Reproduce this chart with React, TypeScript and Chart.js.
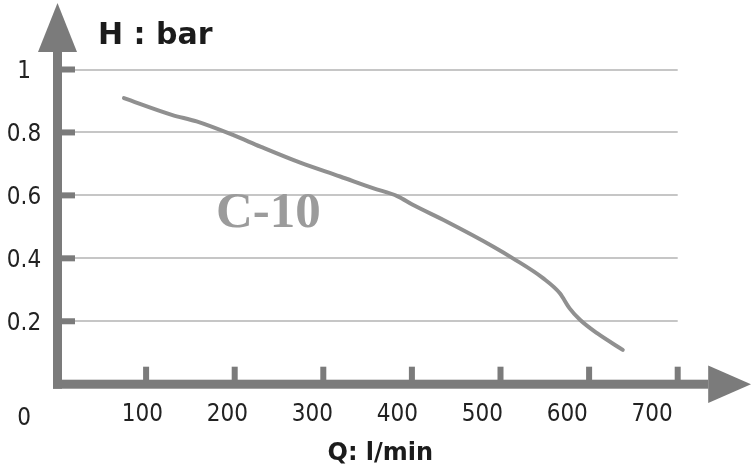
import React, { useEffect, useRef } from "react";
import { Chart, registerables } from "chart.js";

Chart.register(...registerables);

// ---- data ----
const flowQ = [75, 129, 157, 198, 229, 274, 319, 356, 384, 401, 439, 492, 514, 548, 567, 578, 590, 609, 638];
const headH = [0.909, 0.856, 0.835, 0.792, 0.755, 0.704, 0.66, 0.623, 0.597, 0.57, 0.517, 0.437, 0.4, 0.337, 0.289, 0.241, 0.204, 0.162, 0.109];

const xTickValues = [100, 200, 300, 400, 500, 600, 700];
const xTickLabels = ["100", "200", "300", "400", "500", "600", "700"];
const yTickValues = [0.2, 0.4, 0.6, 0.8, 1];
const yTickLabels = ["0.2", "0.4", "0.6", "0.8", "1"];
const originLabel = "0";
const yTitle = "H : bar";
const xTitle = "Q: l/min";
const curveName = "C-10";
const curveLabelQ = 238;
const curveLabelH = 0.5;

const X_MAX = 700;
const Y_MAX = 1;
const LABEL_AXIS_MAX = 730;

// ---- styles ----
const AXIS = "#7b7b7b";
const GRID = "#c6c6c6";
const CURVE = "#909090";
const TEXT = "#222222";
const LABEL_FONT = '24px "DejaVu Sans Condensed", "DejaVu Sans", sans-serif';
const TITLE_FONT_Y = 'bold 30px "DejaVu Sans", sans-serif';
const TITLE_FONT_X = 'bold 24px "DejaVu Sans", sans-serif';
const NAME_FONT = 'bold 51px "Liberation Serif", serif';

const axesPlugin = {
  id: "pumpAxes",
  afterDatasetsDraw(chart: any) {
    const ctx = chart.ctx as CanvasRenderingContext2D;
    const xs = chart.scales.x;
    const ys = chart.scales.y;
    const xl = chart.scales.xl;
    const area = chart.chartArea;
    const x0 = xs.getPixelForValue(0);
    const y0 = ys.getPixelForValue(0);
    const W = chart.width;

    ctx.save();
    ctx.fillStyle = AXIS;

    // tick stubs on y axis
    yTickValues.forEach((v) => {
      const y = ys.getPixelForValue(v);
      ctx.fillRect(x0 + 4.5, y - 3, 13, 6);
    });
    // tick stubs on x axis
    xTickValues.forEach((v) => {
      const x = xs.getPixelForValue(v);
      ctx.fillRect(x - 3, y0 - 17.5, 6, 13.5);
    });

    const arrowBaseY = area.top - 17.5;
    const arrowBaseX = area.right + 30.5;
    // y axis bar
    ctx.fillRect(x0 - 4.5, arrowBaseY, 9, y0 + 4.5 - arrowBaseY);
    // x axis bar
    ctx.fillRect(x0 - 4.5, y0 - 4.5, arrowBaseX - (x0 - 4.5), 9);

    // y arrow head
    ctx.beginPath();
    ctx.moveTo(x0, area.top - 66.5);
    ctx.lineTo(x0 + 19.5, arrowBaseY);
    ctx.lineTo(x0 - 19.5, arrowBaseY);
    ctx.closePath();
    ctx.fill();
    // x arrow head
    ctx.beginPath();
    ctx.moveTo(W, y0);
    ctx.lineTo(arrowBaseX, y0 - 18.7);
    ctx.lineTo(arrowBaseX, y0 + 18.7);
    ctx.closePath();
    ctx.fill();

    // y tick labels
    ctx.fillStyle = TEXT;
    ctx.font = LABEL_FONT;
    ctx.textAlign = "center";
    ctx.textBaseline = "alphabetic";
    const yLabelX = x0 - 33.5;
    yTickValues.forEach((v, i) => {
      const y = ys.getPixelForValue(v);
      ctx.fillText(yTickLabels[i], yLabelX, y + 8.7);
    });
    // x tick labels
    xTickValues.forEach((v, i) => {
      const x = xl.getPixelForValue(v);
      ctx.fillText(xTickLabels[i], x, y0 + 36.5);
    });
    // origin label
    ctx.fillText(originLabel, yLabelX, y0 + 41);

    // titles
    ctx.font = TITLE_FONT_Y;
    ctx.textAlign = "left";
    ctx.fillStyle = "#1b1b1b";
    ctx.fillText(yTitle, x0 + 40.5, area.top - 25.5);
    ctx.font = TITLE_FONT_X;
    ctx.textAlign = "center";
    ctx.fillText(xTitle, xl.getPixelForValue(380), y0 + 75.3);

    // curve name
    ctx.font = NAME_FONT;
    ctx.fillStyle = "#9b9b9b";
    ctx.fillText(curveName, xs.getPixelForValue(curveLabelQ), ys.getPixelForValue(curveLabelH));

    ctx.restore();
  },
};

export default function App() {
  const ref = useRef<HTMLCanvasElement | null>(null);

  useEffect(() => {
    document.body.style.margin = "0";
    const canvas = ref.current;
    if (!canvas) return;
    const points = flowQ.map((q, i) => ({ x: q, y: headH[i] }));
    const zeroW = (s: any) => {
      s.width = 0;
    };
    const zeroH = (s: any) => {
      s.height = 0;
    };
    const chart = new Chart(canvas, {
      type: "line",
      data: {
        datasets: [
          {
            label: curveName,
            data: points,
            borderColor: CURVE,
            borderWidth: 4,
            pointRadius: 0,
            cubicInterpolationMode: "monotone",
            borderCapStyle: "round",
            borderJoinStyle: "round",
            fill: false,
            xAxisID: "x",
            yAxisID: "y",
          },
        ],
      },
      options: {
        animation: false,
        responsive: false,
        maintainAspectRatio: false,
        layout: { padding: { left: 57.5, right: 73.3, top: 69.5, bottom: 88.8 } },
        plugins: { legend: { display: false }, tooltip: { enabled: false }, title: { display: false } },
        events: [],
        scales: {
          x: {
            type: "linear",
            min: 0,
            max: X_MAX,
            grid: { display: false },
            border: { display: false },
            ticks: { display: false, stepSize: 100 },
            afterFit: zeroH,
          },
          xl: {
            type: "linear",
            position: "bottom",
            min: 0,
            max: LABEL_AXIS_MAX,
            grid: { display: false },
            border: { display: false },
            ticks: { display: false, stepSize: 100 },
            afterFit: zeroH,
          },
          y: {
            type: "linear",
            min: 0,
            max: Y_MAX,
            grid: { color: GRID, lineWidth: 2, drawTicks: false },
            border: { display: false },
            ticks: { display: false, stepSize: 0.2 },
            afterFit: zeroW,
          },
        },
      } as any,
      plugins: [axesPlugin],
    });
    return () => chart.destroy();
  }, []);

  return (
    <div style={{ width: 751, height: 473 }}>
      <canvas ref={ref} width={751} height={473} style={{ display: "block" }} />
    </div>
  );
}
